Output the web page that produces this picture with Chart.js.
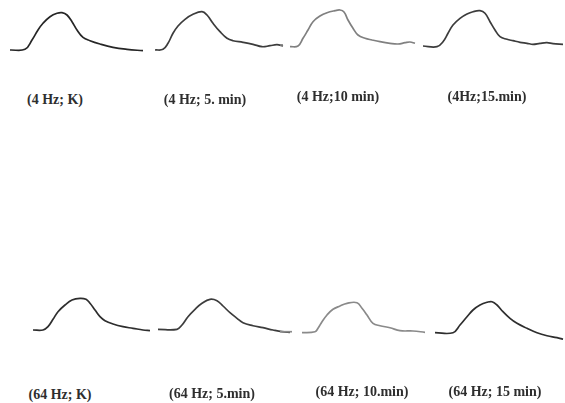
<!DOCTYPE html>
<html>
<head>
<meta charset="utf-8">
<script src="https://cdn.jsdelivr.net/npm/chart.js@4.4.1/dist/chart.umd.min.js"></script>
<style>
    html, body { margin: 0; padding: 0; background: #fff; }
    #stage { position: relative; width: 565px; height: 403px; overflow: hidden; }
    #stage canvas { position: absolute; }
    .lbl {
        position: absolute;
        transform: translate(-50%, -50%);
        font-family: 'Liberation Serif', 'DejaVu Serif', serif;
        font-size: 14px;
        font-weight: bold;
        line-height: 1;
        color: #2e2e2e;
        white-space: nowrap;
    }
</style>
</head>
<body>
<div id="stage"></div>
<script>
// Panel captions
const labels = [
    '(4 Hz; K)', '(4 Hz; 5. min)', '(4 Hz;10 min)', '(4Hz;15.min)',
    '(64 Hz; K)', '(64 Hz; 5.min)', '(64 Hz; 10.min)', '(64 Hz; 15 min)'
];

// Time samples (ms from panel start) and amplitudes (arbitrary units) per trace
const t4K   = [2, 17, 24, 30, 35, 42, 49, 54, 59, 64, 69, 75, 82, 92, 105, 119, 135];
const v4K   = [0, 0.07, 1.0, 2.0, 2.67, 3.33, 3.67, 3.73, 3.5, 2.83, 2.0, 1.27, 0.93, 0.6, 0.27, 0.07, -0.07];

const t4_5  = [3, 11, 16, 21, 26, 33, 41, 50, 55, 61, 68, 75, 81, 91, 101, 110, 118, 125, 131];
const v4_5  = [0, 0.07, 0.67, 1.67, 2.4, 3.07, 3.57, 3.83, 3.5, 2.67, 1.83, 1.17, 0.93, 0.77, 0.57, 0.33, 0.43, 0.53, 0.4];

const t4_10 = [10, 18, 23, 28, 33, 40, 47, 55, 60, 64, 68, 73, 78, 85, 92, 100, 110, 118, 125, 130, 135];
const v4_10 = [0.33, 0.4, 1.17, 2.0, 2.83, 3.4, 3.73, 3.93, 4.0, 3.8, 3.0, 2.17, 1.5, 1.17, 1.0, 0.83, 0.67, 0.6, 0.73, 0.8, 0.67];
const t4_10stub = [0, 3];
const v4_10stub = [0.5, 0.5];

const t4_15 = [3, 17, 23, 28, 33, 40, 47, 53, 60, 65, 70, 75, 80, 87, 93, 100, 107, 113, 120, 127, 133, 143];
const v4_15 = [0.4, 0.33, 0.83, 1.67, 2.5, 3.17, 3.6, 3.83, 3.93, 3.67, 2.83, 2.0, 1.33, 1.07, 0.93, 0.77, 0.67, 0.57, 0.67, 0.73, 0.63, 0.57];

const t64K   = [5, 15, 20, 25, 30, 37, 44, 52, 58, 62, 67, 72, 77, 85, 95, 105, 115, 122];
const v64K   = [0, 0, 0.33, 1.07, 1.83, 2.5, 3.0, 3.17, 3.07, 2.67, 2.0, 1.33, 0.93, 0.6, 0.33, 0.17, 0, -0.07];

const t64_5  = [6, 25, 30, 36, 43, 50, 58, 65, 71, 78, 85, 91, 101, 111, 121, 130, 138];
const v64_5  = [0.07, 0.07, 0.5, 1.33, 2.07, 2.67, 3.07, 2.93, 2.4, 1.73, 1.17, 0.73, 0.43, 0.23, 0, -0.17, -0.23];

const t64_10 = [24, 37, 40, 44, 49, 55, 62, 69, 79, 84, 89, 95, 102, 112, 122, 135, 147];
const v64_10 = [-0.27, -0.17, 0.17, 0.83, 1.5, 2.07, 2.4, 2.67, 2.73, 2.17, 1.5, 0.67, 0.43, 0.23, -0.07, -0.1, -0.23];
const t64_10stub = [2, 14];
const v64_10stub = [-0.17, -0.17];

const t64_15 = [3, 21, 28, 35, 41, 48, 55, 60, 65, 71, 78, 85, 95, 105, 115, 125, 131];
const v64_15 = [-0.27, -0.27, 0.5, 1.33, 2.0, 2.5, 2.77, 2.83, 2.5, 1.83, 1.17, 0.67, 0.17, -0.27, -0.57, -0.77, -0.93];

// Layout of each panel on the page
const panels = [
    { series: [[t4K, v4K]],                          left: 8,   top: 0,   w: 145, color: '#262626', lx: 55,  ly: 100 },
    { series: [[t4_5, v4_5]],                        left: 152, top: 0,   w: 140, color: '#3c3c3c', lx: 205, ly: 100 },
    { series: [[t4_10, v4_10], [t4_10stub, v4_10stub]], left: 280, top: 0, w: 140, color: '#808080', lx: 338, ly: 97 },
    { series: [[t4_15, v4_15]],                      left: 420, top: 0,   w: 145, color: '#3c3c3c', lx: 487, ly: 97 },
    { series: [[t64K, v64K]],                        left: 28,  top: 280, w: 125, color: '#2e2e2e', lx: 60,  ly: 395 },
    { series: [[t64_5, v64_5]],                      left: 152, top: 280, w: 145, color: '#3c3c3c', lx: 212, ly: 394 },
    { series: [[t64_10, v64_10], [t64_10stub, v64_10stub]], left: 278, top: 280, w: 150, color: '#8a8a8a', lx: 362, ly: 392 },
    { series: [[t64_15, v64_15]],                    left: 432, top: 280, w: 133, color: '#2e2e2e', lx: 495, ly: 392 }
];

const stage = document.getElementById('stage');

panels.forEach((p, i) => {
    const canvas = document.createElement('canvas');
    canvas.width = p.w;
    canvas.height = 60;
    canvas.style.left = p.left + 'px';
    canvas.style.top = p.top + 'px';
    stage.appendChild(canvas);

    new Chart(canvas, {
        type: 'line',
        data: {
            datasets: p.series.map(([ts, vs]) => ({
                data: ts.map((t, k) => ({ x: t, y: vs[k] })),
                borderColor: p.color,
                borderWidth: 1.7,
                pointRadius: 0,
                fill: false,
                tension: 0.4,
                clip: false
            }))
        },
        options: {
            responsive: false,
            animation: false,
            layout: { padding: 0 },
            plugins: { legend: { display: false }, tooltip: { enabled: false } },
            scales: {
                x: { type: 'linear', display: false, min: 0, max: p.w },
                y: { display: false, min: -1, max: 5 }
            }
        }
    });

    // Caption
    const lbl = document.createElement('div');
    lbl.className = 'lbl';
    lbl.textContent = labels[i];
    lbl.style.left = p.lx + 'px';
    lbl.style.top = p.ly + 'px';
    stage.appendChild(lbl);
});
</script>
</body>
</html>
